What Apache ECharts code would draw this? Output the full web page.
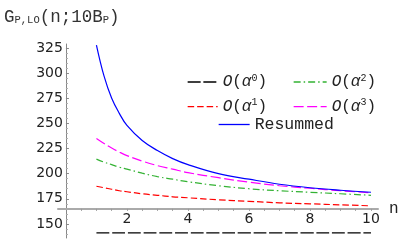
<!DOCTYPE html>
<html>
<head>
<meta charset="utf-8">
<script src="https://cdn.jsdelivr.net/npm/echarts@6/dist/echarts.min.js"></script>
<style>html,body{margin:0;padding:0;background:#fff}#c{width:404px;height:249px}</style>
</head>
<body>
<div id="c"></div>
<script>
// ---- data ----
var nValues   = [1, 1.25, 1.5, 1.75, 2, 2.5, 3, 3.5, 4, 5, 6, 7, 8, 9, 10];
var order0    = [141, 141, 141, 141, 141, 141, 141, 141, 141, 141, 141, 141, 141, 141, 141];
var order1    = [187.5, 186, 184.5, 183, 182, 180, 178.5, 177, 176, 174, 172.5, 171, 170, 169, 168];
var order2    = [214.5, 211.5, 209, 206.5, 204.5, 200.5, 197, 194.5, 192, 188, 185, 183, 181.5, 180, 178.5];
var order3    = [235, 230, 225.5, 221.5, 218, 212.5, 208, 204.5, 201, 196, 191.5, 188, 185.5, 183, 181];
var resummed  = [328, 297, 275, 260, 248, 233, 223, 215, 209, 200, 194.5, 189.5, 186, 183.5, 181.5];
var yTickLabels = [150, 175, 200, 225, 250, 275, 300, 325];
var yMinorTicks = [140,145,155,160,165,170,180,185,190,195,205,210,215,220,230,235,240,245,255,260,265,270,280,285,290,295,305,310,315,320];
var xTickLabels = [2, 4, 6, 8, 10];
var xMinorTicks = [0.5,1,1.5,2,2.5,3,3.5,4,4.5,5,5.5,6,6.5,7,7.5,8,8.5,9,9.5,10];
var seriesNames = ['O0', 'O1', 'O2', 'O3', 'Resummed'];

function pairs(ys){ return nValues.map(function(n,i){ return [n, ys[i]]; }); }

var chartW = 404, chartH = 249;
var yMin = 136, yMax = 329, gridTop = 44, gridBottom = 11;
var xMin = -0.26, xMax = 10.23, gridLeft = 58, gridRight = 26;
var crossY = 165, crossX = 0;
var plotH = chartH - gridTop - gridBottom;
var plotW = chartW - gridLeft - gridRight;
var xAxisOffset = -((crossY - yMin) / (yMax - yMin) * plotH);
var yAxisOffset = -((crossX - xMin) / (xMax - xMin) * plotW);

var mono = 'Liberation Mono';
var sans = 'DejaVu Sans';
var textColor = '#222';

var legendRich = {
  o: {fontFamily: mono, fontSize: 16, fontStyle: 'italic', color: textColor},
  t: {fontFamily: mono, fontSize: 16, color: textColor},
  a: {fontFamily: mono, fontSize: 16, fontStyle: 'italic', color: textColor},
  s: {fontFamily: mono, fontSize: 10, color: textColor, verticalAlign: 'top', padding: [0,0,8,0]},
  r: {fontFamily: mono, fontSize: 16.5, color: textColor}
};
function legendFmt(name){
  if (name === 'Resummed') return '{r|Resummed}';
  var k = name.charAt(1);
  return '{o|O}{t|(}{a|α}{s|' + k + '}{t|)}';
}
function mkLegend(data, left, top, w){
  return {data: data, orient: 'vertical', left: left, top: top, itemWidth: w, itemHeight: 14,
          itemGap: 7.6, padding: 0, formatter: legendFmt, textStyle: {rich: legendRich},
          itemStyle: {opacity: 0}, lineStyle: {width: 1.3}};
}

var chart = echarts.init(document.getElementById('c'), null, {renderer: 'canvas'});
chart.setOption({
  animation: false,
  title: {
    text: '{m|G}{s|P,LO}{m|(n;10B}{s|P}{m|)}',
    left: 4, top: 8, padding: 0,
    textStyle: {rich: {
      m: {fontFamily: mono, fontSize: 17.5, fontWeight: 'normal', color: '#333'},
      s: {fontFamily: mono, fontSize: 10.5, fontWeight: 'normal', color: '#333', padding: [7,0,0,0]}
    }}
  },
  legend: [
    mkLegend(['O0', 'O1'], 187, 73, 30),
    mkLegend(['O2', 'O3'], 293, 73, 33),
    mkLegend(['Resummed'], 218, 116, 31)
  ],
  grid: {left: gridLeft, right: gridRight, top: gridTop, bottom: gridBottom},
  xAxis: {
    type: 'value', min: xMin, max: xMax,
    position: 'bottom', offset: xAxisOffset,
    name: 'n', nameLocation: 'end', nameGap: 11,
    nameTextStyle: {fontFamily: mono, fontSize: 16, color: textColor, verticalAlign: 'middle'},
    axisLine: {show: true, onZero: false, lineStyle: {color: '#aaa', width: 2}},
    axisTick: {show: true, inside: false, length: 2, lineStyle: {color: '#999'}, customValues: xMinorTicks},
    axisLabel: {customValues: xTickLabels, margin: 4, fontFamily: sans, fontSize: 14, color: textColor},
    splitLine: {show: false}
  },
  yAxis: [{
    type: 'value', min: yMin, max: yMax, position: 'left', offset: yAxisOffset,
    axisLine: {show: true, onZero: false, lineStyle: {color: '#888', width: 1}},
    axisTick: {show: true, inside: true, length: 3, lineStyle: {color: '#888'}, customValues: yTickLabels},
    axisLabel: {customValues: yTickLabels, margin: 3, fontFamily: sans, fontSize: 14, color: textColor},
    splitLine: {show: false}
  }, {
    type: 'value', min: yMin, max: yMax, position: 'left', offset: yAxisOffset,
    axisLine: {show: false, onZero: false},
    axisTick: {show: true, inside: true, length: 2, lineStyle: {color: '#aaa'}, customValues: yMinorTicks},
    axisLabel: {show: false},
    splitLine: {show: false}
  }],
  series: [
    {name: seriesNames[0], type: 'line', data: pairs(order0), symbol: 'none', smooth: 0.4,
     lineStyle: {color: '#000', width: 1.3, type: [13, 2.7]}, itemStyle: {color: '#000'}},
    {name: seriesNames[1], type: 'line', data: pairs(order1), symbol: 'none', smooth: 0.4,
     lineStyle: {color: '#ff0000', width: 1.2, type: [6.5, 3]}, itemStyle: {color: '#ff0000'}},
    {name: seriesNames[2], type: 'line', data: pairs(order2), symbol: 'none', smooth: 0.4,
     lineStyle: {color: '#33b233', width: 1.2, type: [7, 3, 1.5, 3]}, itemStyle: {color: '#33b233'}},
    {name: seriesNames[3], type: 'line', data: pairs(order3), symbol: 'none', smooth: 0.4,
     lineStyle: {color: '#ff00ff', width: 1.2, type: [10, 3.5]}, itemStyle: {color: '#ff00ff'}},
    {name: seriesNames[4], type: 'line', data: pairs(resummed), symbol: 'none', smooth: 0.4,
     lineStyle: {color: '#0000ff', width: 1.2, type: 'solid'}, itemStyle: {color: '#0000ff'}}
  ]
});
</script>
</body>
</html>
